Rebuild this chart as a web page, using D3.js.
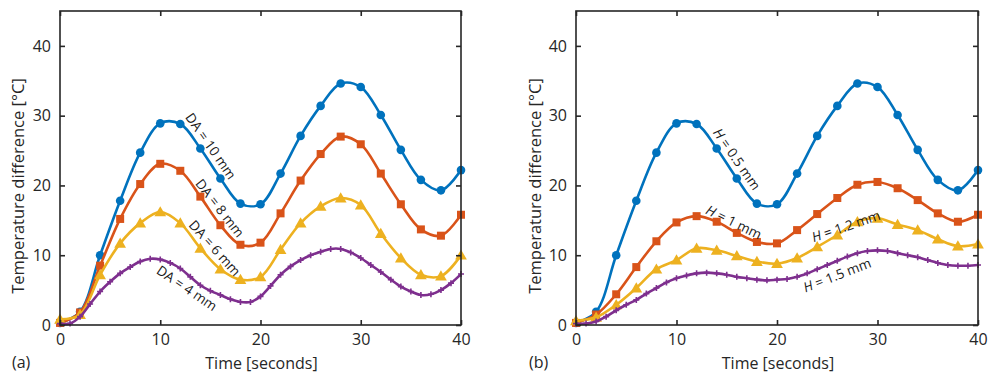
<!DOCTYPE html>
<html>
<head>
<meta charset="utf-8">
<script src="https://cdn.jsdelivr.net/npm/d3@7"></script>
<style>
  html, body { margin: 0; padding: 0; background: #fff; }
  svg { display: block; font-family: "Open Sans", "Noto Sans", sans-serif; }
</style>
</head>
<body>
<script>
// Data (time in seconds, temperature difference in °C)
const timeCoarse = d3.range(0, 41, 2)
const timeFine = d3.range(0, 41, 1)
const xTicks = [0, 10, 20, 30, 40]
const yTicks = [0, 10, 20, 30, 40]

// Panel (a): diameter DA
const da10 = [0.3, 1.9, 10.0, 17.8, 24.7, 28.9, 28.8, 25.3, 21.0, 17.4, 17.3, 21.7, 27.1, 31.4, 34.6, 34.1, 30.1, 25.1, 20.8, 19.3, 22.2]
const da8 = [0.3, 1.8, 8.5, 15.2, 20.2, 23.1, 22.1, 18.4, 14.3, 11.5, 11.8, 16.0, 20.7, 24.5, 27.0, 25.9, 21.7, 17.3, 13.7, 12.8, 15.8]
const da6 = [0.8, 1.5, 7.2, 11.7, 14.6, 16.2, 14.6, 11.0, 8.0, 6.5, 6.9, 10.8, 14.6, 17.0, 18.2, 17.2, 13.1, 9.6, 7.2, 7.0, 10.0]
const da4 = [0.2, 0.2, 1.2, 3.0, 4.8, 6.2, 7.4, 8.3, 9.1, 9.5, 9.4, 8.9, 8.1, 6.9, 5.7, 4.9, 4.3, 3.7, 3.3, 3.3, 4.1,
  5.6, 7.2, 8.4, 9.3, 10.0, 10.5, 10.9, 10.9, 10.4, 9.6, 8.6, 7.6, 6.5, 5.5, 4.8, 4.3, 4.4, 5.0, 6.0, 7.3]

// Panel (b): thickness H
const h05 = da10
const h10 = [0.3, 1.5, 4.4, 8.3, 12.0, 14.7, 15.6, 14.8, 13.2, 11.9, 11.7, 13.6, 15.9, 18.2, 20.1, 20.5, 19.6, 17.9, 16.0, 14.8, 15.8]
const h12 = [0.6, 1.1, 2.9, 5.3, 8.0, 9.3, 11.0, 10.7, 9.9, 9.1, 8.8, 9.6, 11.2, 12.9, 14.8, 15.3, 14.4, 13.6, 12.3, 11.3, 11.6]
const h15 = [0.2, 0.2, 0.5, 1.2, 2.1, 2.9, 3.6, 4.5, 5.3, 6.1, 6.7, 7.1, 7.4, 7.5, 7.4, 7.2, 6.9, 6.7, 6.5, 6.4, 6.5,
  6.6, 6.9, 7.4, 8.0, 8.6, 9.2, 9.8, 10.3, 10.6, 10.7, 10.6, 10.3, 10.0, 9.7, 9.3, 8.9, 8.6, 8.5, 8.5, 8.6]

// Labels
const labelsA = ["DA = 10 mm", "DA = 8 mm", "DA = 6 mm", "DA = 4 mm"]
const labelsB = ["H = 0.5 mm", "H = 1 mm", "H = 1.2 mm", "H = 1.5 mm"]
const yLabel = "Temperature difference [°C]"
const xLabel = "Time [seconds]"

// Styles
const colors = ["#0072BD", "#D95319", "#EDB120", "#7E2F8E"]
const markers = ["circle", "square", "triangle", "plus"]
const axisColor = "#262626"

const svg = d3.select("body").append("svg").attr("width", 989).attr("height", 374)

/** Draws one panel. */
function panel({ left, right, tag, tagX, ylabX, series, labels, labelPos }) {
  const x = d3.scaleLinear().domain([0, 40]).range([left, right])
  const y = d3.scaleLinear().domain([0, 45]).range([325, 11])
  const g = svg.append("g")

  // Series
  series.forEach((s, i) => {
    const pts = s.data.map((v, j) => [s.t[j], v])
    g.append("path")
      .datum(pts)
      .attr("d", d3.line().curve(d3.curveCatmullRom.alpha(0.5)).x(d => x(d[0])).y(d => y(d[1])))
      .attr("fill", "none")
      .attr("stroke", colors[i])
      .attr("stroke-width", 2.6)
    const m = g.append("g").attr("fill", colors[i]).attr("stroke", colors[i])
    pts.forEach(d => {
      const cx = x(d[0]), cy = y(d[1])
      if (markers[i] === "circle")
        m.append("circle").attr("cx", cx).attr("cy", cy).attr("r", 4.3).attr("stroke", "none")
      else if (markers[i] === "square")
        m.append("rect").attr("x", cx - 4).attr("y", cy - 4).attr("width", 8).attr("height", 8).attr("stroke", "none")
      else if (markers[i] === "triangle")
        m.append("path").attr("d", d3.symbol(d3.symbolTriangle, 60)()).attr("transform", `translate(${cx},${cy + 1})`).attr("stroke", "none")
      else
        m.append("path").attr("d", `M${cx - 3},${cy}H${cx + 3}M${cx},${cy - 3}V${cy + 3}`).attr("stroke-width", 1.6).attr("fill", "none")
    })
  })

  // Curve labels
  labels.forEach((t, i) => {
    const [lx, ly, rot] = labelPos[i]
    const txt = g.append("text")
      .attr("transform", `translate(${lx},${ly}) rotate(${rot})`)
      .attr("text-anchor", "middle")
      .attr("dominant-baseline", "central")
      .attr("font-size", 13.5)
      .attr("fill", "#1a1a1a")
    if (t.startsWith("H")) {
      txt.append("tspan").attr("font-style", "italic").text("H")
      txt.append("tspan").text(t.slice(1))
    } else {
      txt.text(t)
    }
  })

  // Axes box
  g.append("rect")
    .attr("x", left).attr("y", 11)
    .attr("width", right - left).attr("height", 314)
    .attr("fill", "none").attr("stroke", axisColor).attr("stroke-width", 1.6)

  const bottom = g.append("g").attr("transform", "translate(0,325)")
    .call(d3.axisBottom(x).tickValues(xTicks).tickSize(-5).tickPadding(9))
  const top = g.append("g").attr("transform", "translate(0,11)")
    .call(d3.axisTop(x).tickValues(xTicks).tickSize(-5).tickFormat(""))
  const leftAx = g.append("g").attr("transform", `translate(${left},0)`)
    .call(d3.axisLeft(y).tickValues(yTicks).tickSize(-5).tickPadding(9))
  const rightAx = g.append("g").attr("transform", `translate(${right},0)`)
    .call(d3.axisRight(y).tickValues(yTicks).tickSize(-5).tickFormat(""))
  for (const a of [bottom, top, leftAx, rightAx]) {
    a.select(".domain").remove()
    a.selectAll(".tick line").attr("stroke", axisColor).attr("stroke-width", 1.6)
    a.selectAll("text").attr("fill", axisColor).style("font-size", "16px").style("font-family", "\"Open Sans\", sans-serif")
  }

  // Axis titles
  g.append("text")
    .attr("x", (left + right) / 2 + 1).attr("y", 369)
    .attr("text-anchor", "middle")
    .attr("font-size", 16).attr("fill", axisColor)
    .text(xLabel)
  g.append("text")
    .attr("transform", `translate(${ylabX},${(11 + 325) / 2 + 18}) rotate(-90)`)
    .attr("text-anchor", "middle")
    .attr("font-size", 16.5).attr("fill", axisColor)
    .text(yLabel)
  g.append("text")
    .attr("x", tagX).attr("y", 368)
    .attr("font-size", 16).attr("fill", axisColor)
    .text(tag)
}

panel({
  left: 60, right: 461, tag: "(a)", tagX: 12, ylabX: 24,
  series: [
    { t: timeCoarse, data: da10 },
    { t: timeCoarse, data: da8 },
    { t: timeCoarse, data: da6 },
    { t: timeFine, data: da4 },
  ],
  labels: labelsA,
  labelPos: [[211, 146, 55], [220, 208, 52], [215, 248, 48], [187, 288, 34]],
})

panel({
  left: 576, right: 978, tag: "(b)", tagX: 529, ylabX: 541,
  series: [
    { t: timeCoarse, data: h05 },
    { t: timeCoarse, data: h10 },
    { t: timeCoarse, data: h12 },
    { t: timeFine, data: h15 },
  ],
  labels: labelsB,
  labelPos: [[737, 159, 55], [734, 222, 26], [846, 226, -19], [837, 275, -21]],
})
</script>
</body>
</html>
